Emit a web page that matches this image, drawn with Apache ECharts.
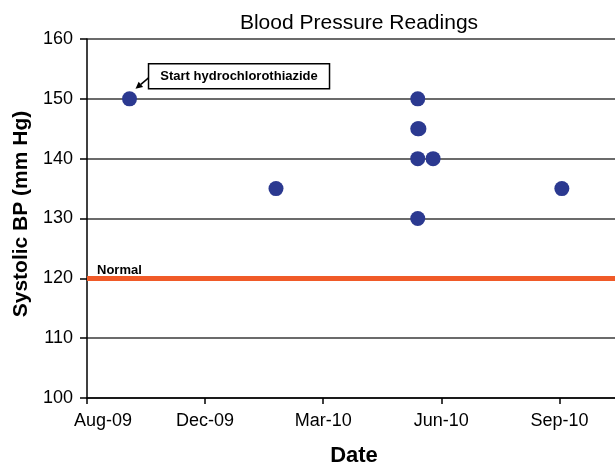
<!DOCTYPE html>
<html>
<head>
<meta charset="utf-8">
<script src="https://cdn.jsdelivr.net/npm/echarts@6/dist/echarts.min.js"></script>
<style>
html,body{margin:0;padding:0;background:#fff;}
#chart{width:615px;height:465px;}
</style>
</head>
<body>
<div id="chart"></div>
<script>
// ---- data ----
const axisStartDate = '2009-08-25';           // x axis origin (day 0)
const tickLabels = ['Aug-09', 'Dec-09', 'Mar-10', 'Jun-10', 'Sep-10'];
const readingDates = ['2009-09-30', '2010-02-01', '2010-06-01', '2010-06-01', '2010-06-02', '2010-06-01', '2010-06-14', '2010-06-01', '2010-10-01'];
const systolicValues = [150, 135, 150, 145, 145, 140, 140, 130, 135];
const normalValue = 120;
const annotationText = 'Start hydrochlorothiazide';
const annotatedIndex = 0;

const DAY = 86400000;
function dayOffset(d) { return Math.round((Date.parse(d) - Date.parse(axisStartDate)) / DAY); }
const points = readingDates.map((d, i) => [dayOffset(d), systolicValues[i]]);
const tickDays = tickLabels.map((_, i) => i * 100);

const FONT = '"Liberation Sans", Arial, sans-serif';
const chart = echarts.init(document.getElementById('chart'), null, { renderer: 'canvas' });

chart.setOption({
  animation: false,
  backgroundColor: '#ffffff',
  title: {
    text: 'Blood Pressure Readings',
    left: 354, top: 8, textAlign: 'center',
    textStyle: { fontFamily: FONT, fontSize: 21, fontWeight: 'normal', color: '#000' }
  },
  grid: { left: 87, right: 0, top: 39, bottom: 67 },
  xAxis: {
    type: 'value', min: 0, max: 447, interval: 100,
    axisLine: { show: true, onZero: false, lineStyle: { color: '#000', width: 1.5 } },
    axisTick: { show: true, length: 6, customValues: tickDays, lineStyle: { color: '#000', width: 1.5 } },
    splitLine: { show: false },
    axisLabel: {
      margin: 14, fontFamily: FONT, fontSize: 18, color: '#000',
      customValues: tickDays,
      formatter: v => {
        if (v % 100 !== 0) return '';
        const t = tickLabels[v / 100] || '';
        return v === 0 ? '{first|' + t + '}' : t;
      },
      rich: { first: { fontFamily: FONT, fontSize: 18, color: '#000', padding: [0, 0, 0, 32] } }
    }
  },
  yAxis: {
    type: 'value', min: 100, max: 160, interval: 10,
    axisLine: { show: true, lineStyle: { color: '#000', width: 1.5 } },
    axisTick: { show: true, length: 7, lineStyle: { color: '#000', width: 1.5 } },
    splitLine: { show: true, lineStyle: { color: '#3a3a3a', width: 1.5 } },
    axisLabel: { margin: 14, fontFamily: FONT, fontSize: 18, color: '#000' }
  },
  series: [{
    type: 'scatter',
    data: points,
    symbol: 'circle', symbolSize: 15,
    itemStyle: { color: '#2B3990', opacity: 1 },
    z: 5,
    markLine: {
      silent: true, symbol: 'none',
      lineStyle: { color: '#F05A28', width: 5, type: 'solid' },
      label: {
        show: true, position: 'insideStartTop', formatter: 'Normal',
        fontFamily: FONT, fontSize: 13, fontWeight: 'bold', color: '#000', distance: [10, 1]
      },
      data: [{ yAxis: normalValue }]
    }
  }]
});

// annotation & axis names
const p = chart.convertToPixel({ seriesIndex: 0 }, points[annotatedIndex]);
const sx = p[0] + 19, sy = p[1] - 21;   // arrow start (box edge)
const tx = p[0] + 6, ty = p[1] - 10;    // arrow tip
const ang = Math.atan2(ty - sy, tx - sx);
const hl = 7, hw = 3.5;
const bx = tx - hl * Math.cos(ang), by = ty - hl * Math.sin(ang);
const head = [
  [tx, ty],
  [bx + hw * Math.sin(ang), by - hw * Math.cos(ang)],
  [bx - hw * Math.sin(ang), by + hw * Math.cos(ang)]
];
chart.setOption({
  graphic: [
    {
      type: 'rect', z: 10,
      shape: { x: p[0] + 19, y: p[1] - 35, width: 181, height: 25 },
      style: { fill: '#fff', stroke: '#000', lineWidth: 1.5 }
    },
    {
      type: 'text', z: 11, x: p[0] + 109.5, y: p[1] - 22.5,
      style: { text: annotationText, font: 'bold 13px ' + FONT, fill: '#000', textAlign: 'center', textVerticalAlign: 'middle' }
    },
    {
      type: 'line', z: 10,
      shape: { x1: sx, y1: sy, x2: bx, y2: by },
      style: { stroke: '#000', lineWidth: 1.5 }
    },
    {
      type: 'polygon', z: 10,
      shape: { points: head },
      style: { fill: '#000' }
    },
    {
      type: 'text', z: 11, x: 21, y: 214, rotation: Math.PI / 2,
      style: { text: 'Systolic BP (mm Hg)', font: 'bold 21px ' + FONT, fill: '#000', textAlign: 'center', textVerticalAlign: 'middle' }
    },
    {
      type: 'text', z: 11, x: 354, y: 456,
      style: { text: 'Date', font: 'bold 22px ' + FONT, fill: '#000', textAlign: 'center', textVerticalAlign: 'middle' }
    }
  ]
});
</script>
</body>
</html>
